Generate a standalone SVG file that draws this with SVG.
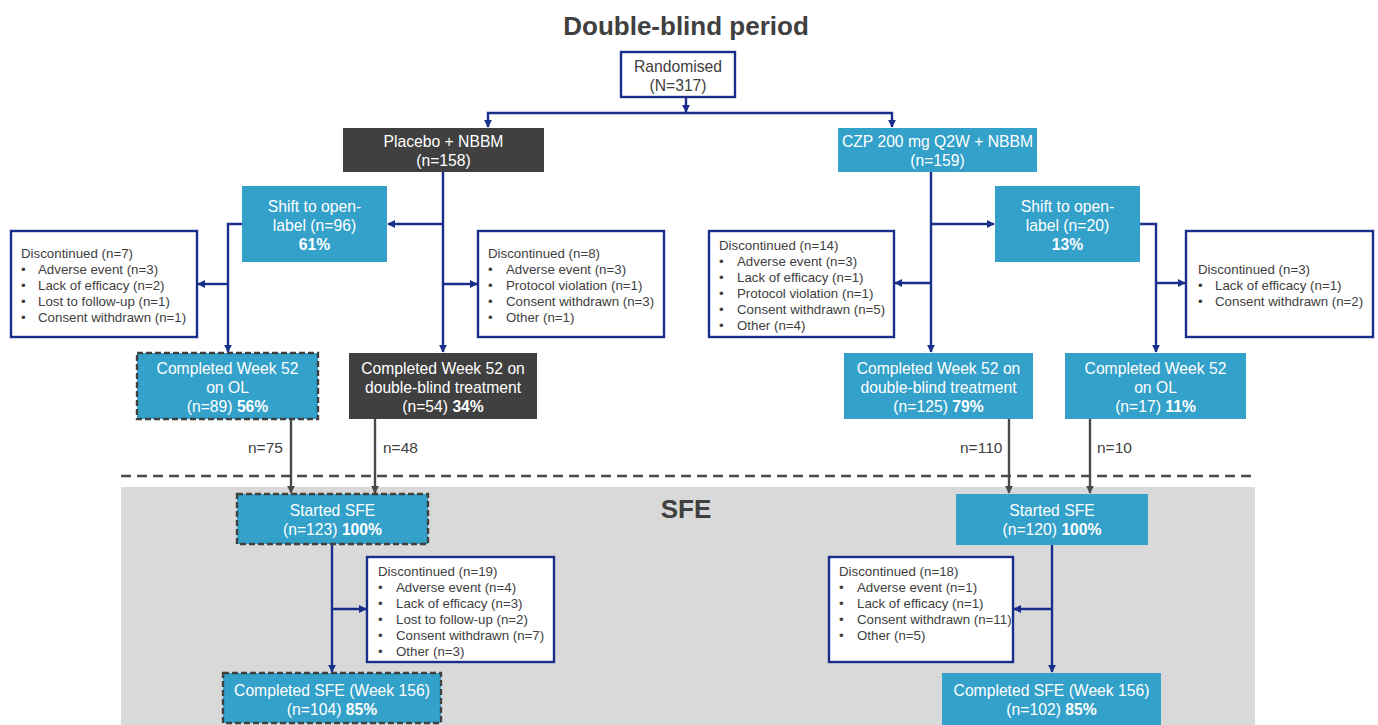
<svg xmlns="http://www.w3.org/2000/svg" width="1378" height="725" viewBox="0 0 1378 725">
<style>
.nav{fill:none;stroke:#1A2E8C;stroke-width:2.4}
.gr{fill:none;stroke:#4a4a4a;stroke-width:2.4}
.teal{fill:#33A1C9}
.dark{fill:#404040}
.wbox{fill:#fff;stroke:#1A2E8C;stroke-width:2.4}
.dash{stroke:#404040;stroke-width:2.4;stroke-dasharray:6 3}
text{font-family:"Liberation Sans",Arial,sans-serif}
.t{font-size:15.7px;text-anchor:middle}
.w{fill:#fff}
.g{fill:#404040}
.s{font-size:13.3px;fill:#404040}
.lbl{font-size:15.5px;fill:#404040}
.h{font-size:26px;font-weight:bold;fill:#404040;text-anchor:middle}
.b{font-weight:bold}
</style>
<defs>
<marker id="an" viewBox="0 0 10 10" refX="9" refY="5" markerWidth="8" markerHeight="8" markerUnits="userSpaceOnUse" orient="auto"><path d="M0,0 L10,5 L0,10 z" fill="#1A2E8C"/></marker>
<marker id="ag" viewBox="0 0 10 10" refX="9" refY="5" markerWidth="8" markerHeight="8" markerUnits="userSpaceOnUse" orient="auto"><path d="M0,0 L10,5 L0,10 z" fill="#4a4a4a"/></marker>
</defs>
<rect width="1378" height="725" fill="#fff"/>
<rect x="121" y="487" width="1134" height="238" fill="#d9d9d9"/>
<line x1="121" y1="476" x2="1255" y2="476" stroke="#4a4a4a" stroke-width="2.5" stroke-dasharray="10 6"/>
<text class="h" x="686" y="35">Double-blind period</text>
<text class="h" x="686" y="518">SFE</text>

<g id="connectors">
<path class="nav" d="M686,97 V112" marker-end="url(#an)"/>
<path class="nav" d="M686,113 H488 V127" marker-end="url(#an)"/>
<path class="nav" d="M686,113 H892 V127" marker-end="url(#an)"/>
<path class="nav" d="M443,172 V352" marker-end="url(#an)"/>
<path class="nav" d="M443,224 H388" marker-end="url(#an)"/>
<path class="nav" d="M443,284 H477" marker-end="url(#an)"/>
<path class="nav" d="M242,224 H228 V352" marker-end="url(#an)"/>
<path class="nav" d="M228,284 H198" marker-end="url(#an)"/>
<path class="nav" d="M931,172 V352" marker-end="url(#an)"/>
<path class="nav" d="M931,224 H994" marker-end="url(#an)"/>
<path class="nav" d="M931,283 H895" marker-end="url(#an)"/>
<path class="nav" d="M1140,224 H1156 V352" marker-end="url(#an)"/>
<path class="nav" d="M1156,283 H1185" marker-end="url(#an)"/>
<path class="gr" d="M291,419 V493" marker-end="url(#ag)"/>
<path class="gr" d="M375,419 V493" marker-end="url(#ag)"/>
<path class="gr" d="M1009,419 V493" marker-end="url(#ag)"/>
<path class="gr" d="M1090,419 V493" marker-end="url(#ag)"/>
<path class="nav" d="M332,544 V672" marker-end="url(#an)"/>
<path class="nav" d="M332,609 H366" marker-end="url(#an)"/>
<path class="nav" d="M1052,545 V672" marker-end="url(#an)"/>
<path class="nav" d="M1052,609 H1014" marker-end="url(#an)"/>
<text class="lbl" x="248" y="453">n=75</text>
<text class="lbl" x="383" y="453">n=48</text>
<text class="lbl" x="960" y="453">n=110</text>
<text class="lbl" x="1097" y="453">n=10</text>
</g>

<g id="randomised">
<rect class="wbox" x="621" y="52" width="114" height="45"/>
<text class="t g" x="678" y="72">Randomised</text>
<text class="t g" x="678" y="91">(N=317)</text>
</g>

<g id="placebo">
<rect class="dark" x="343" y="128" width="201" height="44"/>
<text class="t w" x="443.5" y="147">Placebo + NBBM</text>
<text class="t w" x="443.5" y="166">(n=158)</text>
</g>

<g id="czp">
<rect class="teal" x="838" y="128" width="199" height="44"/>
<text class="t w" x="937.5" y="147">CZP 200 mg Q2W + NBBM</text>
<text class="t w" x="937.5" y="166">(n=159)</text>
</g>

<g id="shift-left">
<rect class="teal" x="242" y="186" width="145" height="76"/>
<text class="t w" x="314.5" y="212">Shift to open-</text>
<text class="t w" x="314.5" y="231">label (n=96)</text>
<text class="t w b" x="314.5" y="250">61%</text>
</g>

<g id="shift-right">
<rect class="teal" x="995" y="186" width="145" height="76"/>
<text class="t w" x="1067.5" y="212">Shift to open-</text>
<text class="t w" x="1067.5" y="231">label (n=20)</text>
<text class="t w b" x="1067.5" y="250">13%</text>
</g>

<g id="disc-placebo-ol">
<rect class="wbox" x="11" y="231" width="186" height="106"/>
<text class="s" x="21" y="258">Discontinued (n=7)</text>
<text class="s" x="21" y="274">•</text><text class="s" x="38" y="274">Adverse event (n=3)</text>
<text class="s" x="21" y="290">•</text><text class="s" x="38" y="290">Lack of efficacy (n=2)</text>
<text class="s" x="21" y="306">•</text><text class="s" x="38" y="306">Lost to follow-up (n=1)</text>
<text class="s" x="21" y="322">•</text><text class="s" x="38" y="322">Consent withdrawn (n=1)</text>
</g>

<g id="disc-placebo-db">
<rect class="wbox" x="478" y="231" width="186" height="106"/>
<text class="s" x="488" y="258">Discontinued (n=8)</text>
<text class="s" x="488" y="274">•</text><text class="s" x="506" y="274">Adverse event (n=3)</text>
<text class="s" x="488" y="290">•</text><text class="s" x="506" y="290">Protocol violation (n=1)</text>
<text class="s" x="488" y="306">•</text><text class="s" x="506" y="306">Consent withdrawn (n=3)</text>
<text class="s" x="488" y="322">•</text><text class="s" x="506" y="322">Other (n=1)</text>
</g>

<g id="disc-czp-db">
<rect class="wbox" x="709" y="231" width="185" height="106"/>
<text class="s" x="719" y="250">Discontinued (n=14)</text>
<text class="s" x="719" y="266">•</text><text class="s" x="737" y="266">Adverse event (n=3)</text>
<text class="s" x="719" y="282">•</text><text class="s" x="737" y="282">Lack of efficacy (n=1)</text>
<text class="s" x="719" y="298">•</text><text class="s" x="737" y="298">Protocol violation (n=1)</text>
<text class="s" x="719" y="314">•</text><text class="s" x="737" y="314">Consent withdrawn (n=5)</text>
<text class="s" x="719" y="330">•</text><text class="s" x="737" y="330">Other (n=4)</text>
</g>

<g id="disc-czp-ol">
<rect class="wbox" x="1186" y="231" width="187" height="106"/>
<text class="s" x="1198" y="274">Discontinued (n=3)</text>
<text class="s" x="1198" y="290">•</text><text class="s" x="1215" y="290">Lack of efficacy (n=1)</text>
<text class="s" x="1198" y="306">•</text><text class="s" x="1215" y="306">Consent withdrawn (n=2)</text>
</g>

<g id="completed-placebo-ol">
<rect class="teal dash" x="137" y="353" width="181" height="66"/>
<text class="t w" x="227.5" y="374">Completed Week 52</text>
<text class="t w" x="227.5" y="393">on OL</text>
<text class="t w" x="227.5" y="412">(n=89) <tspan class="b">56%</tspan></text>
</g>

<g id="completed-placebo-db">
<rect class="dark" x="349" y="353" width="188" height="66"/>
<text class="t w" x="443" y="374">Completed Week 52 on</text>
<text class="t w" x="443" y="393">double-blind treatment</text>
<text class="t w" x="443" y="412">(n=54) <tspan class="b">34%</tspan></text>
</g>

<g id="completed-czp-db">
<rect class="teal" x="844" y="353" width="189" height="66"/>
<text class="t w" x="938.5" y="374">Completed Week 52 on</text>
<text class="t w" x="938.5" y="393">double-blind treatment</text>
<text class="t w" x="938.5" y="412">(n=125) <tspan class="b">79%</tspan></text>
</g>

<g id="completed-czp-ol">
<rect class="teal" x="1065" y="353" width="181" height="66"/>
<text class="t w" x="1155.5" y="374">Completed Week 52</text>
<text class="t w" x="1155.5" y="393">on OL</text>
<text class="t w" x="1155.5" y="412">(n=17) <tspan class="b">11%</tspan></text>
</g>

<g id="started-sfe-placebo">
<rect class="teal dash" x="237" y="494" width="191" height="50"/>
<text class="t w" x="332.5" y="516">Started SFE</text>
<text class="t w" x="332.5" y="535">(n=123) <tspan class="b">100%</tspan></text>
</g>

<g id="started-sfe-czp">
<rect class="teal" x="956" y="494" width="192" height="51"/>
<text class="t w" x="1052" y="516">Started SFE</text>
<text class="t w" x="1052" y="535">(n=120) <tspan class="b">100%</tspan></text>
</g>

<g id="disc-sfe-placebo">
<rect class="wbox" x="367" y="557" width="187" height="105"/>
<text class="s" x="378" y="576">Discontinued (n=19)</text>
<text class="s" x="378" y="592">•</text><text class="s" x="396" y="592">Adverse event (n=4)</text>
<text class="s" x="378" y="608">•</text><text class="s" x="396" y="608">Lack of efficacy (n=3)</text>
<text class="s" x="378" y="624">•</text><text class="s" x="396" y="624">Lost to follow-up (n=2)</text>
<text class="s" x="378" y="640">•</text><text class="s" x="396" y="640">Consent withdrawn (n=7)</text>
<text class="s" x="378" y="656">•</text><text class="s" x="396" y="656">Other (n=3)</text>
</g>

<g id="disc-sfe-czp">
<rect class="wbox" x="829" y="557" width="184" height="105"/>
<text class="s" x="839" y="576">Discontinued (n=18)</text>
<text class="s" x="839" y="592">•</text><text class="s" x="857" y="592">Adverse event (n=1)</text>
<text class="s" x="839" y="608">•</text><text class="s" x="857" y="608">Lack of efficacy (n=1)</text>
<text class="s" x="839" y="624">•</text><text class="s" x="857" y="624">Consent withdrawn (n=11)</text>
<text class="s" x="839" y="640">•</text><text class="s" x="857" y="640">Other (n=5)</text>
</g>

<g id="completed-sfe-placebo">
<rect class="teal dash" x="223" y="673" width="218" height="50"/>
<text class="t w" x="332" y="696">Completed SFE (Week 156)</text>
<text class="t w" x="332" y="715">(n=104) <tspan class="b">85%</tspan></text>
</g>

<g id="completed-sfe-czp">
<rect class="teal" x="942" y="673" width="219" height="52"/>
<text class="t w" x="1051.5" y="696">Completed SFE (Week 156)</text>
<text class="t w" x="1051.5" y="715">(n=102) <tspan class="b">85%</tspan></text>
</g>
</svg>
